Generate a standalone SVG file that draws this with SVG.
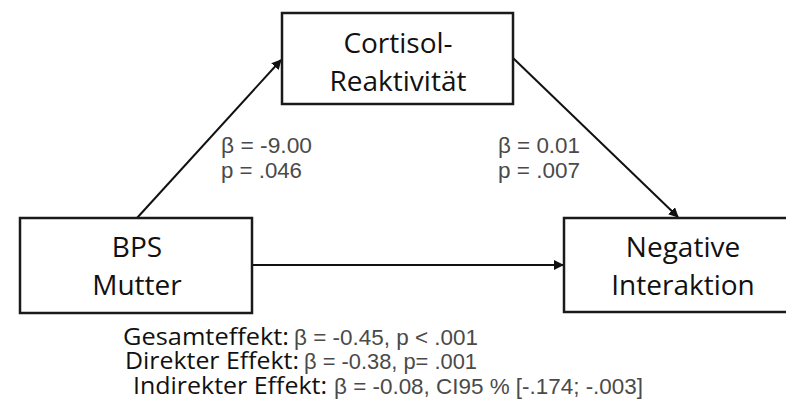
<svg xmlns="http://www.w3.org/2000/svg" width="786" height="402" viewBox="0 0 786 402">
<style>
.box{fill:#fff;stroke:#1a1a1a;stroke-width:2.5}
.lbl{font-family:"Open Sans","Noto Sans",sans-serif;font-size:28px;fill:#111;text-anchor:middle}
.stat{font-family:"Liberation Sans",Arial,sans-serif;font-size:22px;fill:#4a4a4a}
.eff{font-family:"Open Sans","Noto Sans",sans-serif;font-size:23px;fill:#111}
.conn{stroke:#111;stroke-width:2;fill:none;marker-end:url(#ah)}
</style>
<defs>
<marker id="ah" viewBox="0 0 10 10" refX="9" refY="5" markerWidth="5" markerHeight="5" orient="auto" markerUnits="strokeWidth">
<path d="M0,0 L10,5 L0,10 z" fill="#111"/>
</marker>
</defs>
<rect width="786" height="402" fill="#fff"/>
<g id="connectors">
<line class="conn" x1="137" y1="218" x2="281" y2="60"/>
<line class="conn" x1="513" y1="58" x2="678" y2="217"/>
<line class="conn" x1="252" y1="265" x2="563" y2="265"/>
</g>
<g id="cortisol">
<rect class="box" x="282" y="13" width="231" height="91"/>
<text class="lbl" x="398" y="53">Cortisol-</text>
<text class="lbl" x="398" y="91">Reaktivität</text>
</g>
<g id="bps">
<rect class="box" x="20" y="218" width="232" height="95"/>
<text class="lbl" x="137" y="257">BPS</text>
<text class="lbl" x="137" y="295">Mutter</text>
</g>
<g id="negative">
<rect class="box" x="564" y="218" width="240" height="94"/>
<text class="lbl" x="683" y="257">Negative</text>
<text class="lbl" x="683" y="295">Interaktion</text>
</g>
<g id="stats">
<text class="stat" x="221" y="153" textLength="91" lengthAdjust="spacingAndGlyphs">β = -9.00</text>
<text class="stat" x="221" y="178" textLength="81" lengthAdjust="spacingAndGlyphs">p = .046</text>
<text class="stat" x="498" y="153" textLength="82" lengthAdjust="spacingAndGlyphs">β = 0.01</text>
<text class="stat" x="498" y="178" textLength="82" lengthAdjust="spacingAndGlyphs">p = .007</text>
</g>
<g id="effects">
<text class="eff" x="123" y="345" textLength="166" lengthAdjust="spacingAndGlyphs">Gesamteffekt:</text>
<text class="stat" x="294" y="345" textLength="184" lengthAdjust="spacingAndGlyphs">β = -0.45, p &lt; .001</text>
<text class="eff" x="125" y="369" textLength="174" lengthAdjust="spacingAndGlyphs">Direkter Effekt:</text>
<text class="stat" x="304" y="369" textLength="173" lengthAdjust="spacingAndGlyphs">β = -0.38, p= .001</text>
<text class="eff" x="133" y="394" textLength="194" lengthAdjust="spacingAndGlyphs">Indirekter Effekt:</text>
<text class="stat" x="334" y="394" textLength="309" lengthAdjust="spacingAndGlyphs">β = -0.08, CI95 % [-.174; -.003]</text>
</g>
</svg>
